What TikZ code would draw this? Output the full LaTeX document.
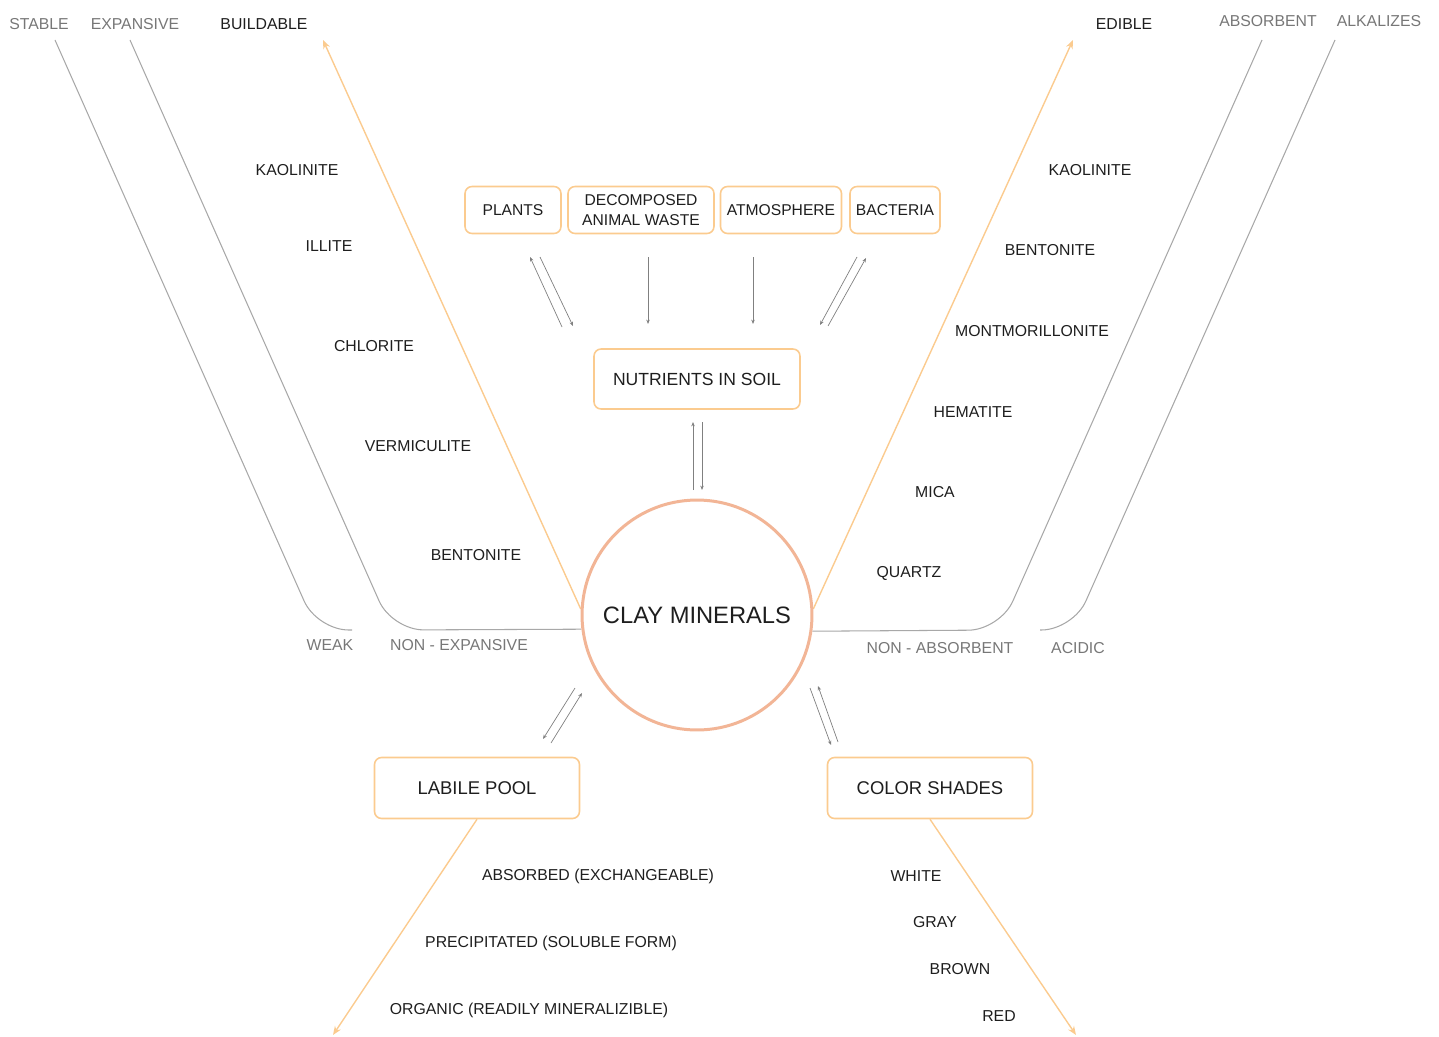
\documentclass[tikz,border=0pt]{standalone}
\usepackage{fontspec}
\setmainfont{Liberation Sans}
\usepackage{pgf, tikz}
\usetikzlibrary{arrows.meta}
\definecolor{peach}{HTML}{FBCB8F}
\definecolor{salmon}{HTML}{F2B596}
\definecolor{greyline}{HTML}{A8A8A8}
\definecolor{greytext}{HTML}{777777}
\definecolor{ink}{HTML}{1E1E1E}
\pgfdeclarelayer{edgelayer}
\pgfdeclarelayer{nodelayer}
\pgfsetlayers{edgelayer,nodelayer,main}
\tikzstyle{box}=[rectangle, rounded corners=4pt, fill=white, draw=peach, line width=0.9pt, text=ink, align=center, font=\fontsize{8.9}{11.3}\selectfont]
\tikzstyle{bigbox}=[box, minimum width=4.1cm, minimum height=1.22cm, font=\fontsize{10.5}{12}\selectfont]
\tikzstyle{hub}=[circle, fill=white, draw=salmon, line width=1.7pt, minimum size=4.6cm, text=ink, font=\fontsize{13.5}{15}\selectfont]
\tikzstyle{item}=[text=ink, font=\fontsize{9}{11}\selectfont]
\tikzstyle{greylabel}=[text=greytext, font=\fontsize{9}{11}\selectfont]
\tikzstyle{flow}=[draw=peach, line width=0.8pt, -{Stealth[length=5pt,width=4pt]}]
\tikzstyle{link}=[draw=gray, line width=0.4pt, -{Stealth[length=2.5pt,width=2pt]}]
\tikzstyle{rail}=[draw=greyline, line width=0.6pt, rounded corners=18pt]

\begin{document}
\begin{tikzpicture}[x=0.02cm, y=-0.02cm]
	\useasboundingbox (0,0) rectangle (1439,1037);
	\begin{pgfonlayer}{nodelayer}
		\node [style=hub] (1) at (697,615) {CLAY MINERALS};
		\node [style=box, minimum width=4.12cm, minimum height=1.2cm, font=\fontsize{10}{12}\selectfont] (2) at (697,379) {NUTRIENTS IN SOIL};
		\node [style=box, minimum width=1.92cm, minimum height=0.94cm] (3) at (513,210) {PLANTS};
		\node [style=box, minimum width=2.92cm, minimum height=0.94cm] (4) at (641,210) {DECOMPOSED\\ANIMAL WASTE};
		\node [style=box, minimum width=2.42cm, minimum height=0.94cm] (5) at (781,210) {ATMOSPHERE};
		\node [style=box, minimum width=1.8cm, minimum height=0.94cm] (6) at (895,210) {BACTERIA};
		\node [style=bigbox] (7) at (477,788) {LABILE POOL};
		\node [style=bigbox] (8) at (930,788) {COLOR SHADES};
		% top labels
		\node [style=greylabel] (10) at (39,24) {STABLE};
		\node [style=greylabel] (11) at (135,24) {EXPANSIVE};
		\node [style=item] (12) at (264,24) {BUILDABLE};
		\node [style=item] (13) at (1124,24) {EDIBLE};
		\node [style=greylabel] (14) at (1268,21) {ABSORBENT};
		\node [style=greylabel] (15) at (1379,21) {ALKALIZES};
		% minerals
		\node [style=item] (16) at (297,170) {KAOLINITE};
		\node [style=item] (17) at (329,246) {ILLITE};
		\node [style=item] (18) at (374,346) {CHLORITE};
		\node [style=item] (19) at (418,446) {VERMICULITE};
		\node [style=item] (20) at (476,555) {BENTONITE};
		\node [style=item] (21) at (1090,170) {KAOLINITE};
		\node [style=item] (22) at (1050,250) {BENTONITE};
		\node [style=item] (23) at (1032,331) {MONTMORILLONITE};
		\node [style=item] (24) at (973,412) {HEMATITE};
		\node [style=item] (25) at (935,492) {MICA};
		\node [style=item] (26) at (909,573) {QUARTZ};
		% bottom of the rails
		\node [style=greylabel] (27) at (330,645) {WEAK};
		\node [style=greylabel] (28) at (459,645) {NON - EXPANSIVE};
		\node [style=greylabel] (29) at (940,648) {NON - ABSORBENT};
		\node [style=greylabel] (30) at (1078,648) {ACIDIC};
		% pool and shades
		\node [style=item] (31) at (598,876) {ABSORBED (EXCHANGEABLE)};
		\node [style=item] (32) at (551,943) {PRECIPITATED (SOLUBLE FORM)};
		\node [style=item] (33) at (529,1010) {ORGANIC (READILY MINERALIZIBLE)};
		\node [style=item] (34) at (916,876) {WHITE};
		\node [style=item] (35) at (935,922) {GRAY};
		\node [style=item] (36) at (960,969) {BROWN};
		\node [style=item] (37) at (999,1016) {RED};
	\end{pgfonlayer}
	% rails
	\coordinate (c1) at (55,40);
	\coordinate (k1) at (317,630);
	\coordinate (w1) at (352,630);
	\coordinate (c2) at (130,40);
	\coordinate (k2) at (392,630);
	\coordinate (c3) at (1262,40);
	\coordinate (k3) at (1000,630);
	\coordinate (c4) at (1335,40);
	\coordinate (k4) at (1073,630);
	\coordinate (w4) at (1040,630);
	% arrow tips
	\coordinate (t1) at (323,40);
	\coordinate (t2) at (1073,40);
	\coordinate (t3) at (333,1035);
	\coordinate (t4) at (1076,1035);
	% small arrows
	\coordinate (g1) at (530,257);
	\coordinate (g2) at (562,327);
	\coordinate (g3) at (540,257);
	\coordinate (g4) at (573,326);
	\coordinate (g5) at (648,257);
	\coordinate (g6) at (648,324);
	\coordinate (g7) at (753,257);
	\coordinate (g8) at (753,324);
	\coordinate (g9) at (857,257);
	\coordinate (g10) at (820,325);
	\coordinate (g11) at (828,326);
	\coordinate (g12) at (866,258);
	\coordinate (g13) at (693,490);
	\coordinate (g14) at (693,422);
	\coordinate (g15) at (702,422);
	\coordinate (g16) at (702,490);
	\coordinate (g17) at (575,688);
	\coordinate (g18) at (543,739);
	\coordinate (g19) at (551,743);
	\coordinate (g20) at (582,693);
	\coordinate (g21) at (838,742);
	\coordinate (g22) at (818,686);
	\coordinate (g23) at (810,688);
	\coordinate (g24) at (831,745);
	\begin{pgfonlayer}{edgelayer}
		\draw [style=rail] (c1) -- (k1) -- (w1);
		\draw [style=rail] (c2) -- (k2) -- (1.187.4);
		\draw [style=rail] (c3) -- (k3) -- (1.352.6);
		\draw [style=rail] (c4) -- (k4) -- (w4);
		\draw [style=flow] (1.177) to (t1);
		\draw [style=flow] (1.3) to (t2);
		\draw [style=flow] (7.south) to (t3);
		\draw [style=flow] (8.south) to (t4);
		\draw [style=link] (g2) to (g1);
		\draw [style=link] (g3) to (g4);
		\draw [style=link] (g5) to (g6);
		\draw [style=link] (g7) to (g8);
		\draw [style=link] (g9) to (g10);
		\draw [style=link] (g11) to (g12);
		\draw [style=link] (g13) to (g14);
		\draw [style=link] (g15) to (g16);
		\draw [style=link] (g17) to (g18);
		\draw [style=link] (g19) to (g20);
		\draw [style=link] (g21) to (g22);
		\draw [style=link] (g23) to (g24);
	\end{pgfonlayer}
\end{tikzpicture}
\end{document}
